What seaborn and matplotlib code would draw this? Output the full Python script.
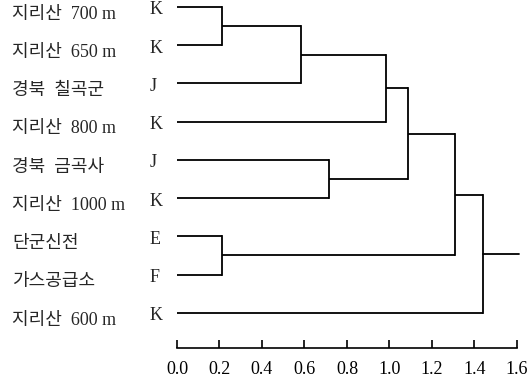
import matplotlib
matplotlib.use("Agg")
import matplotlib.pyplot as plt
import matplotlib.transforms as mtransforms
import seaborn as sns

# leaves, top to bottom
sites = ["지리산  700 m", "지리산  650 m", "경북  칠곡군", "지리산  800 m", "경북  금곡사",
         "지리산  1000 m", "단군신전", "가스공급소", "지리산  600 m"]
codes = ["K", "K", "J", "K", "J", "K", "E", "F", "K"]

# merges: (child a, child b, distance); new nodes numbered from len(sites)
merge_a = [0, 9, 10, 4, 11, 6, 13, 15]
merge_b = [1, 2, 3, 5, 12, 7, 14, 8]
merge_h = [0.21, 0.585, 0.985, 0.717, 1.085, 0.21, 1.31, 1.44]
root_end = 1.61

xticks = [0.0, 0.2, 0.4, 0.6, 0.8, 1.0, 1.2, 1.4, 1.6]

sns.set_style("white")
plt.rcParams["font.family"] = ["Liberation Serif", "Noto Sans CJK KR"]

fig = plt.figure(figsize=(5.3, 3.82), dpi=100)
ax = fig.add_axes([177 / 530, 34 / 382, 348 / 530, 348 / 382])

pos_y = {i: float(i) for i in range(len(sites))}
pos_h = {i: 0.0 for i in range(len(sites))}
lw = 1.3
for k, (a, b, h) in enumerate(zip(merge_a, merge_b, merge_h)):
    node = len(sites) + k
    ya, yb = pos_y[a], pos_y[b]
    ax.plot([pos_h[a], h], [ya, ya], color="black", lw=lw, solid_capstyle="butt")
    ax.plot([pos_h[b], h], [yb, yb], color="black", lw=lw, solid_capstyle="butt")
    ax.plot([h, h], [ya, yb], color="black", lw=lw, solid_capstyle="projecting")
    pos_y[node] = (ya + yb) / 2
    pos_h[node] = h
last = len(sites) + len(merge_h) - 1
ax.plot([pos_h[last], root_end], [pos_y[last], pos_y[last]], color="black", lw=lw)

ax.set_xlim(0, 1.638)
ax.set_ylim(8.92, -0.18)

trans = mtransforms.blended_transform_factory(fig.transFigure, ax.transData)
for i, (s, c) in enumerate(zip(sites, codes)):
    ax.text(12 / 530, i + 0.19, s, transform=trans, fontsize=13, va="center", ha="left")
    ax.text(150 / 530, i + 0.08, c, transform=trans, fontsize=13, va="center", ha="left")

for side in ["left", "right", "top"]:
    ax.spines[side].set_visible(False)
ax.spines["bottom"].set_bounds(0, 1.6)
ax.spines["bottom"].set_linewidth(1.2)
ax.spines["bottom"].set_color("black")
ax.set_yticks([])
ax.set_xticks(xticks)
ax.set_xticklabels([f"{t:.1f}" for t in xticks], fontsize=13)
ax.tick_params(axis="x", direction="in", length=6, width=1.2, pad=9, bottom=True, colors="black")

fig.savefig("out.png", dpi=100)
